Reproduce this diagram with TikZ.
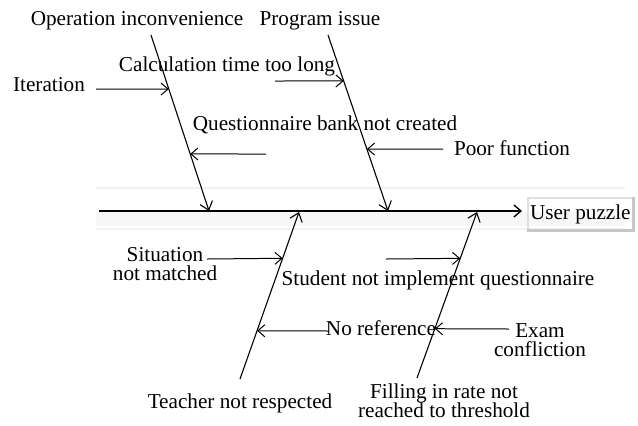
\documentclass[tikz,border=0pt]{standalone}
\usepackage{fontspec}
\setmainfont{Liberation Serif}
\usetikzlibrary{arrows.meta}

\begin{document}
\begin{tikzpicture}[
  x=0.5pt, y=-0.5pt,
  cause/.style={
    font=\fontsize{10.6}{9.7}\selectfont,
    inner sep=0pt, align=center
  },
  bone/.style={
    -{Straight Barb[length=4pt, width=6.5pt]},
    line width=0.55pt
  },
  arrow/.style={
    -{Straight Barb[length=3.5pt, width=6pt]},
    line width=0.5pt
  }
]
\useasboundingbox (0,0) rectangle (638,425);

\fill[gray!6] (96,212) rectangle (625,226);
\draw[gray!12, line width=1pt] (96,188) -- (625,188);
\draw[gray!10, line width=1pt] (96,229) -- (625,229);

\node[cause, draw=gray!25, line width=1pt, inner xsep=1pt, inner ysep=3pt, anchor=base west] (puzzle) at (527,219) {User puzzle};
\draw[gray!45, line width=1.5pt] (puzzle.north east) -- (puzzle.south east) -- (puzzle.south west);

\coordinate (spine) at (99,211);
\draw[arrow, line width=0.7pt, shorten >=2.5pt] (spine) -- (spine -| puzzle.west);

\coordinate (oi-top) at (151,35);
\coordinate (oi-end) at (209,211);
\coordinate (pi-top) at (328,35);
\coordinate (pi-end) at (388,211);
\coordinate (tr-low) at (240,379);
\coordinate (tr-end) at (299,212);
\coordinate (fr-low) at (417,378);
\coordinate (fr-end) at (477,212);

\draw[bone] (oi-top) -- (oi-end) coordinate[pos=0.307] (oi-1) coordinate[pos=0.676] (oi-2);
\draw[bone] (pi-top) -- (pi-end) coordinate[pos=0.261] (pi-1) coordinate[pos=0.648] (pi-2);
\draw[bone] (tr-low) -- (tr-end) coordinate[pos=0.723] (tr-1) coordinate[pos=0.289] (tr-2);
\draw[bone] (fr-low) -- (fr-end) coordinate[pos=0.721] (fr-1) coordinate[pos=0.297] (fr-2);

\node[cause, anchor=base] (oi) at (137,25) {Operation inconvenience};
\node[cause, anchor=base] (prog) at (320,25) {Program issue};
\node[cause, anchor=base] (calc) at (227,71) {Calculation time too long};
\node[cause, anchor=base] (iter) at (49,91) {Iteration};
\node[cause, anchor=base] (qbank) at (325,130) {Questionnaire bank not created};
\node[cause, anchor=base] (poor) at (512,155) {Poor function};
\node[cause] (sit) at (165,264) {Situation\\not matched};
\node[cause, anchor=base] (stud) at (438,285) {Student not implement questionnaire};
\node[cause, anchor=base] (noref) at (381,335) {No reference};
\node[cause] (exam) at (540,340) {Exam\\confliction};
\node[cause, anchor=base] (teach) at (240,408) {Teacher not respected};
\node[cause] (fill) at (444,401) {Filling in rate not\\reached to threshold};

\coordinate (iter-from) at (96,89);
\coordinate (qbank-from) at (266,154);
\coordinate (calc-from) at (275,81);
\coordinate (poor-from) at (443,149);
\coordinate (sit-from) at (207,259);
\coordinate (noref-from) at (329,331);
\coordinate (stud-from) at (386,259);
\coordinate (exam-from) at (509,329);

\draw[arrow] (iter-from) -- (oi-1);
\draw[arrow] (qbank-from) -- (oi-2);
\draw[arrow] (calc-from) -- (pi-1);
\draw[arrow] (poor-from) -- (pi-2);
\draw[arrow] (sit-from) -- (tr-1);
\draw[arrow] (noref-from) -- (tr-2);
\draw[arrow] (stud-from) -- (fr-1);
\draw[arrow] (exam-from) -- (fr-2);
\end{tikzpicture}
\end{document}
